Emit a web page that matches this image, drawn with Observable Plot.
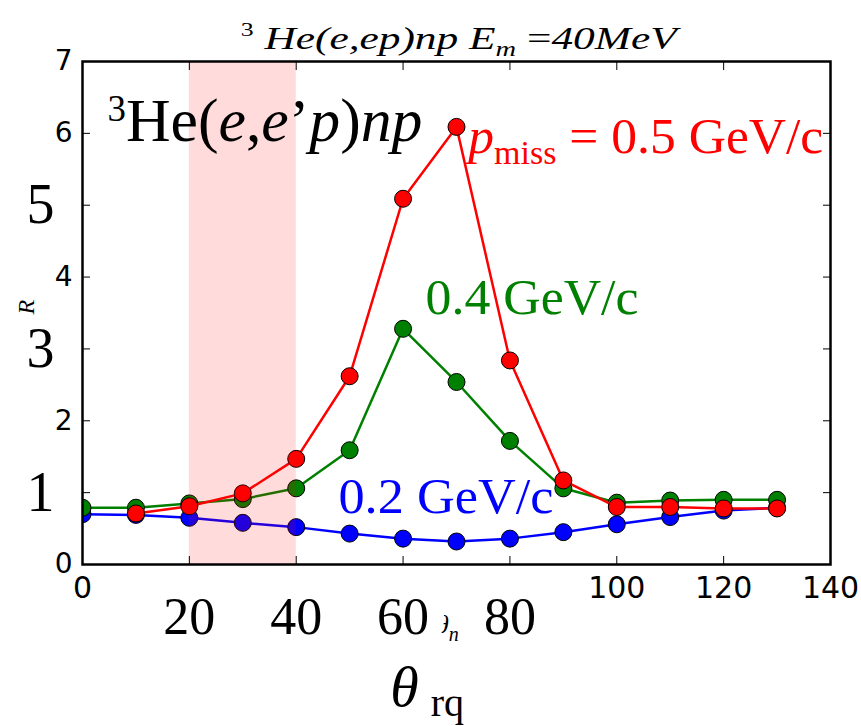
<!DOCTYPE html>
<html><head><meta charset="utf-8">
<script src="https://cdn.jsdelivr.net/npm/d3@7"></script>
<script src="https://cdn.jsdelivr.net/npm/@observablehq/plot@0.6"></script>
<style>body{margin:0;background:#fff} svg{display:block} text{white-space:pre}</style>
</head><body><div id="chart"></div>
<script>
// ---- data ----
const angles = [0,10,20,30,40,50,60,70,80,90,100,110,120,130];
const ratio02 = [0.70,0.69,0.65,0.58,0.52,0.43,0.36,0.32,0.36,0.45,0.56,0.66,0.75,0.79];
const ratio04 = [0.79,0.79,0.85,0.91,1.06,1.59,3.28,2.54,1.72,1.06,0.86,0.89,0.90,0.90];
const ratio05 = [null,0.71,0.81,0.99,1.47,2.62,5.09,6.09,2.84,1.17,0.80,0.80,0.78,0.78];
const seriesNames = ["0.2 GeV/c","0.4 GeV/c","pmiss = 0.5 GeV/c"];
const seriesColors = ["#0000ff","#008000","#ff0000"];
const shadedRange = [20, 40];
const xTicks = [0,20,40,60,80,100,120,140];
const yTicks = [0,1,2,3,4,5,6,7];
const xSmallLabels = [0,100,120,140];
const xBigLabels = [20,40,60,80];
const ySmallLabels = [0,2,4,6,7];
const yBigLabels = [1,3,5];
const titleText = "3 He(e,ep)np Em =40MeV";
const reactionText = "3He(e,e\u2019p)np";
const xLabelText = "\u03b8rq";
const xLabelHidden = "\u03b8n";
const yLabelText = "R";

const allSeries = [ratio02, ratio04, ratio05];
const rows = [];
allSeries.forEach((vals, s) => angles.forEach((a, i) => rows.push({angle: a, ratio: vals[i], series: s})));

const serif = "Liberation Serif, Times New Roman, serif";
const sans = "DejaVu Sans, sans-serif";
const intFmt = d => String(d);

const marks = [];
allSeries.forEach((_, s) => {
  const d = rows.filter(r => r.series === s);
  marks.push(Plot.line(d, {x: "angle", y: "ratio", stroke: seriesColors[s], strokeWidth: 2.5, clip: true}));
  marks.push(Plot.dot(d.filter(r => r.ratio != null), {x: "angle", y: "ratio", r: 8.5, fill: seriesColors[s], stroke: "black", strokeWidth: 1, clip: true}));
});
marks.push(Plot.rect([shadedRange], {x1: d => d[0], x2: d => d[1], fill: "red", fillOpacity: 0.14}));

// ticks (inward)
marks.push(Plot.axisX(xTicks, {anchor: "bottom", tickSize: -8, fill: "none", label: null}));
marks.push(Plot.axisX(xTicks, {anchor: "top", tickSize: -8, fill: "none", label: null}));
marks.push(Plot.axisY(yTicks, {anchor: "left", tickSize: -8, fill: "none", label: null}));
marks.push(Plot.axisY(yTicks, {anchor: "right", tickSize: -8, fill: "none", label: null}));
// small sans tick labels
marks.push(Plot.axisX(xSmallLabels, {anchor: "bottom", tickSize: 0, tickPadding: 12, fontSize: 30, fontFamily: sans, label: null, tickFormat: intFmt}));
marks.push(Plot.axisY(ySmallLabels, {anchor: "left", tickSize: 0, tickPadding: 10, fontSize: 28, fontFamily: sans, label: null, tickFormat: intFmt}));
marks.push(Plot.frame({stroke: "black", strokeWidth: 2.5}));

// partly hidden original axis labels
marks.push(Plot.text([xLabelHidden], {x: 66.25, frameAnchor: "bottom", dy: 68, lineAnchor: "bottom", textAnchor: "start", fontSize: 25, fontFamily: serif, fontStyle: "italic", fill: "black"}));
marks.push(Plot.text([yLabelText], {y: 3.58, frameAnchor: "left", dx: -56, rotate: -90, textAnchor: "middle", lineAnchor: "middle", fontSize: 24, fontFamily: serif, fontStyle: "italic", fill: "black"}));

// big serif tick labels
marks.push(Plot.text(xBigLabels, {x: d => d, frameAnchor: "bottom", dy: 69, lineAnchor: "bottom", textAnchor: "middle", fontSize: 52, fontFamily: serif, fill: "black", stroke: "white", strokeWidth: 34, paintOrder: "stroke"}));
marks.push(Plot.text(yBigLabels, {y: d => d, frameAnchor: "left", dx: -42, lineAnchor: "middle", textAnchor: "middle", fontSize: 56, fontFamily: serif, fill: "black"}));

// big x label
marks.push(Plot.text([xLabelText], {x: 57.6, frameAnchor: "bottom", dy: 141, lineAnchor: "bottom", textAnchor: "start", fontSize: 58, fontFamily: serif, fill: "black"}));
// title
marks.push(Plot.text([titleText], {x: 70.4, frameAnchor: "top", dy: -13, lineAnchor: "bottom", textAnchor: "middle", fontSize: 32, fontFamily: serif, fill: "black"}));
// annotations
marks.push(Plot.text([reactionText], {x: 4.68, y: 5.90, lineAnchor: "bottom", textAnchor: "start", fontSize: 62, fontFamily: serif, fill: "black"}));
marks.push(Plot.text([seriesNames[2]], {x: 72.2, y: 5.72, lineAnchor: "bottom", textAnchor: "start", fontSize: 50, fontFamily: serif, fill: seriesColors[2]}));
marks.push(Plot.text([seriesNames[1]], {x: 64.2, y: 3.49, lineAnchor: "bottom", textAnchor: "start", fontSize: 50, fontFamily: serif, fill: seriesColors[1]}));
marks.push(Plot.text([seriesNames[0]], {x: 47.9, y: 0.72, lineAnchor: "bottom", textAnchor: "start", fontSize: 50, fontFamily: serif, fill: seriesColors[0]}));

const svg = Plot.plot({
  width: 861, height: 726,
  marginTop: 61, marginRight: 31, marginBottom: 162, marginLeft: 82,
  x: {domain: [0, 140]},
  y: {domain: [0, 7]},
  style: {background: "white", color: "black", fontFamily: serif, overflow: "visible"},
  marks
});
document.getElementById("chart").append(svg);

function richText(key, parts, textLength) {
  d3.select(svg).selectAll("text").filter(function() { return this.textContent === key; }).each(function() {
    const t = d3.select(this);
    t.text(null);
    parts.forEach(p => {
      const s = t.append("tspan").text(p.t);
      if (p.size) s.attr("font-size", p.size);
      if (p.dy) s.attr("dy", p.dy);
      if (p.dx) s.attr("dx", p.dx);
      if (p.italic) s.attr("font-style", "italic");
    });
    if (textLength) t.attr("textLength", textLength).attr("lengthAdjust", "spacingAndGlyphs");
  });
}
richText(titleText, [{t: "3", size: 19, dy: -13}, {t: " He(e,ep)np E", dy: 13, italic: true}, {t: "m", size: 21, dy: 7, italic: true}, {t: " =", dy: -7}, {t: "40MeV", italic: true}], 436);
richText(reactionText, [{t: "3", size: 37, dy: -20}, {t: "He(", dy: 20}, {t: "e", italic: true}, {t: ","}, {t: "e", italic: true}, {t: "\u2019"}, {t: "p", italic: true}, {t: ")"}, {t: "np", italic: true}], 315);
richText(seriesNames[2], [{t: "p", italic: true}, {t: "miss", size: 33, dy: 11}, {t: " = 0.5 GeV/c", dy: -11}], 355);
richText(seriesNames[1], [{t: "0.4 GeV/c"}], 213);
richText(seriesNames[0], [{t: "0.2 GeV/c"}], 215);
richText(xLabelText, [{t: "\u03b8", italic: true}, {t: "rq", size: 40, dy: 10, dx: 12}]);
richText(xLabelHidden, [{t: "\u03b8", italic: true}, {t: "n", size: 20, dy: 8, italic: true}]);
</script>
</body></html>
